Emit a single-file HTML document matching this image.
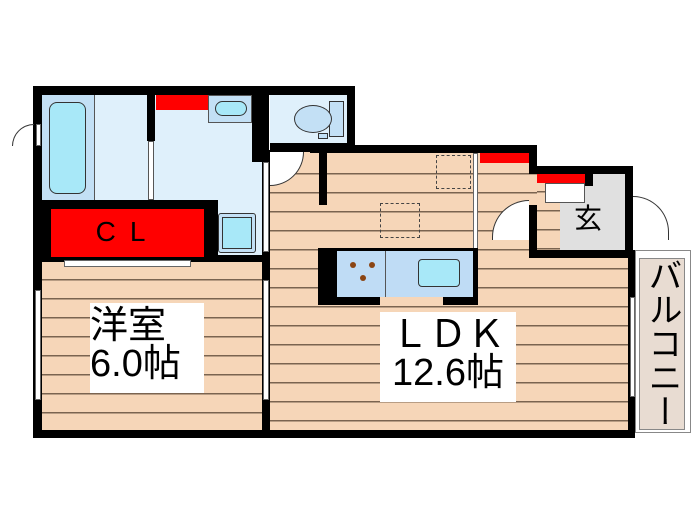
<!DOCTYPE html>
<html><head><meta charset="utf-8"><style>
body{margin:0;width:700px;height:525px;background:#fff;position:relative;overflow:hidden;font-family:"Liberation Sans","Noto Sans CJK JP",sans-serif}
div{position:absolute;box-sizing:border-box}
.k{background:#000}
.wood{background-color:#f6d6b8;background-image:repeating-linear-gradient(to bottom,transparent 0,transparent 17px,#7a6450 17px,#7a6450 18.5px,transparent 18.5px,transparent 19px)}
.lb{background:#dff0fb}
.t{color:#000;line-height:1}
</style></head><body>
<div class="wood" style="left:42px;top:262px;width:222px;height:171px"></div>
<div class="wood" style="left:270px;top:152px;width:360px;height:281px;background-position:0 4px"></div>
<div style="left:537px;top:140px;width:100px;height:26px;background:#fff"></div>
<div class="wood" style="left:537px;top:174px;width:88px;height:76px"></div>
<div class="lb" style="left:42px;top:95px;width:210px;height:105px"></div>
<div class="lb" style="left:208px;top:95px;width:54px;height:160px"></div>
<div style="left:42px;top:95px;width:53px;height:105px;background:#c3e0f5;border-right:1px solid #555"></div>
<div style="left:49px;top:102px;width:37px;height:92px;background:#a8e8f8;border:1px solid #333;border-radius:8px"></div>
<div style="left:208px;top:95px;width:44px;height:28px;background:#c3e0f5;border:1px solid #555"></div>
<div style="left:215px;top:101px;width:32px;height:15px;background:#a8e8f8;border:1px solid #333;border-radius:8px"></div>
<div style="left:156px;top:95px;width:52px;height:15px;background:#f00"></div>
<div style="left:218px;top:213px;width:38px;height:40px;background:#c3e0f5;border:1px solid #333;border-radius:3px"></div>
<div style="left:222px;top:217px;width:30px;height:32px;background:#a8e8f8;border:1px solid #333"></div>
<div class="lb" style="left:270px;top:95px;width:77px;height:48px"></div>
<div style="left:329px;top:101px;width:15px;height:36px;background:#c3e0f5;border:1px solid #333"></div>
<div style="left:294px;top:105px;width:38px;height:28px;background:#c3e0f5;border:1px solid #333;border-radius:50%"></div>
<div style="left:318px;top:133px;width:10px;height:6px;background:#c3e0f5;border:1px solid #333"></div>
<div class="k" style="left:33px;top:86px;width:322px;height:9px"></div>
<div class="k" style="left:33px;top:86px;width:9px;height:352px"></div>
<div class="k" style="left:33px;top:430px;width:600px;height:8px"></div>
<div class="k" style="left:147px;top:95px;width:8px;height:46px"></div>
<div style="left:148px;top:141px;width:6px;height:59px;background:#fff;border:1px solid #555"></div>
<div class="k" style="left:252px;top:86px;width:17px;height:76px"></div>
<div class="k" style="left:347px;top:86px;width:8px;height:66px"></div>
<div class="k" style="left:270px;top:143px;width:85px;height:9px"></div>
<div class="k" style="left:310px;top:145px;width:227px;height:8px"></div>
<div class="k" style="left:319px;top:152px;width:8px;height:53px"></div>
<div class="k" style="left:529px;top:145px;width:8px;height:29px"></div>
<div class="k" style="left:529px;top:166px;width:103px;height:8px"></div>
<div class="k" style="left:625px;top:166px;width:8px;height:90px"></div>
<div class="k" style="left:529px;top:250px;width:104px;height:8px"></div>
<div class="k" style="left:529px;top:205px;width:8px;height:52px"></div>
<div class="k" style="left:628px;top:250px;width:7px;height:188px"></div>
<div class="k" style="left:262px;top:150px;width:8px;height:288px"></div>
<div style="left:263px;top:162px;width:6px;height:90px;background:#fff;border:1px solid #666"></div>
<div style="left:263px;top:280px;width:6px;height:120px;background:#fff;border:1px solid #666"></div>
<div class="k" style="left:42px;top:200px;width:176px;height:62px"></div>
<div class="k" style="left:42px;top:255px;width:228px;height:7px"></div>
<div style="left:51px;top:209px;width:153px;height:48px;background:#f00"></div>
<div class="t" style="left:51px;top:218px;width:153px;text-align:center;font-size:28px;letter-spacing:14px">CL</div>
<div style="left:64px;top:260px;width:127px;height:7px;background:#fff;border:1px solid #666"></div>
<div style="left:35px;top:290px;width:6px;height:110px;background:#fff;border:1px solid #666"></div>
<div style="left:36px;top:124px;width:5px;height:22px;background:#fff;border:1px solid #666"></div>
<div style="left:12px;top:124px;width:22px;height:22px;border:1px solid #333;border-radius:22px 0 0 0;border-right:none;border-bottom:none"></div>
<div style="left:270px;top:152px;width:34px;height:34px;background:#fff;border:1px solid #333;border-radius:0 0 34px 0;border-left:none;border-top:none"></div>
<div style="left:560px;top:174px;width:65px;height:76px;background:#e0e0e0"></div>
<div style="left:537px;top:174px;width:48px;height:9px;background:#f00"></div>
<div style="left:545px;top:183px;width:40px;height:20px;background:#fff;border:1px solid #555"></div>
<div class="k" style="left:585px;top:174px;width:8px;height:12px"></div>
<div class="t" style="left:574px;top:205px;font-size:28px">玄</div>
<div style="left:480px;top:153px;width:49px;height:10px;background:#f00"></div>
<div style="left:492px;top:200px;width:37px;height:40px;background:#fff;border:1px solid #333;border-radius:37px 0 0 0;border-right:none;border-bottom:none"></div>
<div style="left:633px;top:196px;width:36px;height:44px;background:#fff;border:1px solid #333;border-radius:0 36px 0 0;border-left:none;border-bottom:none"></div>
<div style="left:473px;top:153px;width:5px;height:98px;background:#fff;border:1px solid #666"></div>
<div style="left:436px;top:155px;width:35px;height:34px;border:1px dashed #444"></div>
<div style="left:380px;top:203px;width:40px;height:35px;border:1px dashed #444"></div>
<div class="k" style="left:318px;top:248px;width:160px;height:57px"></div>
<div style="left:337px;top:251px;width:136px;height:46px;background:#bfdcf5"></div>
<div style="left:385px;top:251px;width:1px;height:46px;background:#555"></div>
<div style="left:418px;top:259px;width:42px;height:28px;background:#a8e8f8;border:1px solid #333;border-radius:4px"></div>
<div style="left:350px;top:262px;width:6px;height:6px;background:#8b4513;border-radius:50%"></div>
<div style="left:369px;top:262px;width:6px;height:6px;background:#8b4513;border-radius:50%"></div>
<div style="left:360px;top:275px;width:6px;height:6px;background:#8b4513;border-radius:50%"></div>
<div style="left:380px;top:297px;width:63px;height:8px;background:#f6d6b8"></div>
<div style="left:630px;top:297px;width:5px;height:100px;background:#fff;border:1px solid #666"></div>
<div style="left:635px;top:250px;width:56px;height:183px;background:#fff;border:1px solid #888"></div>
<div style="left:639px;top:258px;width:46px;height:172px;background:#e8dcd2;border:1px solid #888"></div>
<div class="t" style="left:640px;top:258px;width:44px;font-size:34px;writing-mode:vertical-rl;text-align:center;line-height:44px">バルコニー</div>
<div class="t" style="left:90px;top:303px;width:114px;height:90px;background:#fff;font-size:38px;padding-top:4px">洋室<br>6.0帖</div>
<div class="t" style="left:380px;top:312px;width:136px;height:90px;background:#fff;font-size:38px;text-align:center;padding-top:4px">ＬＤＫ<br>12.6帖</div>
</body></html>
